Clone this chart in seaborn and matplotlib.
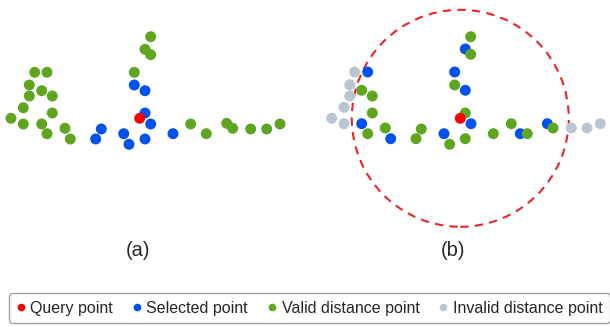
import pandas as pd
import matplotlib.pyplot as plt
import seaborn as sns
from matplotlib.lines import Line2D
from matplotlib.patches import Circle

# Point positions (pixel-like units, query point at the origin)
# Panel (a): selection by nearest neighbours
a_x = [11, 5.3, 11, -5.4, -105, -92.7, -110.4, -98, -110.4, -87.4, -116.4, -87.4,
       -128.7, -116.4, -98, -74.7, -92.7, -69.4, 51, 66.6, 87, 93, 111, 127, 140.3,
       -5.4, 5.3, 5.3, 11, -38.4, -44, -16, -10.7, 5.3, 33.3,
       0]
a_y = [81.6, 69, 63.6, 46, 46, 46, 33.3, 27.6, 22.3, 22.3, 10.6, 5.3,
       0, -5.7, -5.7, -10, -15.4, -20.7, -5.7, -15.4, -5, -10, -10.7, -10.7, -5.7,
       33.3, 27.6, 5.3, -5.7, -10.7, -20.7, -15.4, -26, -20.7, -15.4,
       0]
a_kind = ["Valid distance point"] * 25 + ["Selected point"] * 10 + ["Query point"]

# Panel (b): selection within a distance range
b_x = [10.4, 10.4, -5.6, -98.6, -88, -88, 5, -92.6, -75, -39, -44.3, -10.6, 5, 33,
       51, 67, 92.7,
       5, -92.6, -5.6, 5, 10.7, -98.6, -69.6, -16.3, 60, 87,
       -105.6, -110.6, -110.6, -116.3, -128.6, -116.3, 111, 126.7, 140,
       0]
b_y = [81.6, 64, 33.3, 28, 22.3, 5.3, 5.3, -15.4, -9.7, -10.7, -20.4, -26, -20.4, -15.4,
       -5.4, -15.4, -9.7,
       69.3, 46.3, 46.3, 28, -5.4, -5.4, -20.4, -15.4, -15.4, -5.4,
       46.3, 33.6, 22.3, 11, 0, -5.4, -9.7, -9.7, -5.4,
       0]
b_kind = (["Valid distance point"] * 17 + ["Selected point"] * 10
          + ["Invalid distance point"] * 9 + ["Query point"])

radius = 108.5

kinds = ["Query point", "Selected point", "Valid distance point", "Invalid distance point"]
colors = {
    "Query point": "#ff0000",
    "Selected point": "#0052ee",
    "Valid distance point": "#5ea520",
    "Invalid distance point": "#b9c5d1",
}
draw_order = ["Invalid distance point", "Selected point", "Valid distance point", "Query point"]

sns.set_style("white")
plt.rcParams["font.family"] = ["Liberation Sans", "DejaVu Sans"]

W, H = 610, 327
fig = plt.figure(figsize=(W / 100, H / 100), dpi=100)

# axes sized so that one data unit is one pixel
top = 118.3
ax_h = 285
ax_a = fig.add_axes([0, 1 - ax_h / H, 305 / W, ax_h / H])
ax_b = fig.add_axes([305 / W, 1 - ax_h / H, 305 / W, ax_h / H])
ax_a.set_xlim(-139.7, 165.3)
ax_b.set_xlim(-155.3, 149.7)

panels = [(ax_a, a_x, a_y, a_kind, "(a)", -1.5), (ax_b, b_x, b_y, b_kind, "(b)", -7)]
for ax, xs, ys, ks, label, lx in panels:
    df = pd.DataFrame({"x": xs, "y": ys, "kind": ks})
    df["order"] = df["kind"].map(draw_order.index)
    df = df.sort_values("order", kind="stable")
    sns.scatterplot(data=df, x="x", y="y", hue="kind", palette=colors,
                    s=62, linewidth=0, legend=False, ax=ax, zorder=3)
    ax.set_ylim(top - ax_h, top)
    ax.text(lx, -132.7, label, ha="center", va="center", fontsize=14.5)
    ax.set_axis_off()

ax_b.add_patch(Circle((0, 0), radius, fill=False, edgecolor="#e8262a",
                      linewidth=1.5, linestyle=(0, (4, 3)), zorder=2))

handles = [Line2D([0], [0], marker="o", linestyle="none", markersize=5.5,
                  markerfacecolor=colors[k], markeredgewidth=0) for k in kinds]
leg = fig.legend(handles, kinds, loc="center", bbox_to_anchor=(0.507, 1 - 308 / H),
                 ncol=4, fontsize=11.5, frameon=True, fancybox=True,
                 handlelength=0.6, handletextpad=0.3, columnspacing=1.2,
                 borderpad=0.45, borderaxespad=0)
leg.get_frame().set_edgecolor("#8a8a8a")
leg.get_frame().set_linewidth(1.0)

fig.savefig("out.png", dpi=100)
